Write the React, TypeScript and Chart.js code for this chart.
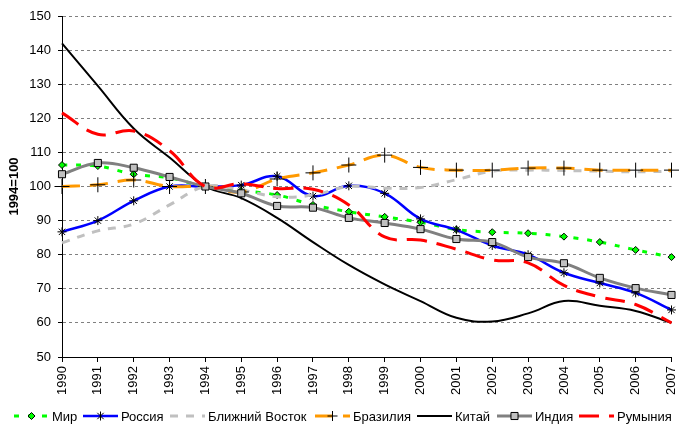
import React, { useEffect, useRef } from "react";
import { Chart, registerables } from "chart.js";

Chart.register(...registerables);

// ---------- data ----------
const years = [
  "1990", "1991", "1992", "1993", "1994", "1995", "1996", "1997", "1998",
  "1999", "2000", "2001", "2002", "2003", "2004", "2005", "2006", "2007",
];
const seriesNames = ["Мир", "Россия", "Ближний Восток", "Бразилия", "Китай", "Индия", "Румыния"];
const yAxisTitle = "1994=100";
const yMin = 50;
const yMax = 150;
const yStep = 10;

const worldValues = [106.3, 106, 103.6, 102.5, 100, 98.8, 97.5, 94.6, 92.6, 91.1, 89.5, 87.4, 86.6, 86.3, 85.3, 83.7, 81.4, 79.3];
const russiaValues = [86.7, 90, 95.8, 100, 100, 100.4, 103, 97.2, 100.2, 98, 90.5, 87.3, 82.7, 80, 74.7, 71.7, 68.8, 63.8];
const middleEastValues = [83.5, 87, 89, 94.6, 100, 99, 97, 97.5, 100, 99.5, 99.7, 102, 104.5, 104.8, 104.7, 104.5, 104.3, 104.5];
const brazilValues = [100, 100.5, 101.9, 100, 100, 98.4, 102.2, 104, 106.3, 109.2, 105.6, 104.8, 104.8, 105.4, 105.4, 104.8, 104.8, 104.8];
const chinaValues = [142, 129.5, 117, 108.5, 100, 96.6, 90.8, 83.7, 77, 71.3, 66.4, 61.5, 60.4, 62.8, 66.4, 65, 63.5, 60];
const indiaValues = [103.6, 106.9, 105.5, 102.8, 100, 98, 94.3, 93.8, 90.8, 89.3, 87.5, 84.6, 83.7, 79.3, 77.5, 73.2, 70.2, 68.2];
const romaniaValues = [121.6, 115.3, 116.3, 110.5, 100, 100.8, 99.4, 99.2, 94.6, 85.2, 84.3, 81.6, 78.5, 77.6, 71, 67.6, 65.4, 60];

// ---------- styling ----------
const FONT = "'Liberation Sans', Arial, sans-serif";
const LEGEND_TEXT_X = [52, 121, 208, 353, 455, 535, 617];
const LEGEND_Y = 416;

function drawMarker(c: CanvasRenderingContext2D, style: string, x: number, y: number, r: number, fill: string, stroke: string) {
  c.save();
  c.setLineDash([]);
  c.lineWidth = 1;
  c.strokeStyle = stroke;
  c.fillStyle = fill;
  c.beginPath();
  if (style === "rectRot") {
    c.moveTo(x, y - r);
    c.lineTo(x + r, y);
    c.lineTo(x, y + r);
    c.lineTo(x - r, y);
    c.closePath();
    c.fill();
    c.stroke();
  } else if (style === "rect") {
    const s = r * Math.SQRT1_2;
    c.rect(x - s, y - s, 2 * s, 2 * s);
    c.fill();
    c.stroke();
  } else if (style === "cross") {
    c.moveTo(x - r, y);
    c.lineTo(x + r, y);
    c.moveTo(x, y - r);
    c.lineTo(x, y + r);
    c.stroke();
  } else if (style === "star") {
    const d = r * Math.SQRT1_2;
    c.moveTo(x, y - r);
    c.lineTo(x, y + r);
    c.moveTo(x - d, y - d);
    c.lineTo(x + d, y + d);
    c.moveTo(x - d, y + d);
    c.lineTo(x + d, y - d);
    c.stroke();
  }
  c.restore();
}

const legendPlugin = {
  id: "excelLegend",
  afterDraw(chart: any) {
    const c: CanvasRenderingContext2D = chart.ctx;
    c.save();
    chart.data.datasets.forEach((ds: any, i: number) => {
      const tx = LEGEND_TEXT_X[i];
      const x0 = tx - 38;
      const x1 = tx - 3;
      c.setLineDash(ds.borderDash || []);
      c.strokeStyle = ds.borderColor;
      c.lineWidth = ds.borderWidth;
      c.lineCap = "butt";
      c.beginPath();
      c.moveTo(x0, LEGEND_Y);
      c.lineTo(x1, LEGEND_Y);
      c.stroke();
      c.setLineDash([]);
      if (ds.pointRadius > 0) {
        drawMarker(c, ds.pointStyle, (x0 + x1) / 2, LEGEND_Y, Math.min(ds.pointRadius, 5), ds.pointBackgroundColor, ds.pointBorderColor);
      }
      c.fillStyle = "#000";
      c.font = `13px ${FONT}`;
      c.textAlign = "left";
      c.textBaseline = "middle";
      c.fillText(ds.label, tx, LEGEND_Y + 1);
    });
    c.restore();
  },
};

export default function App() {
  const ref = useRef<HTMLCanvasElement>(null);

  useEffect(() => {
    document.body.style.margin = "0";
    const canvas = ref.current;
    if (!canvas) return;

    const base = { tension: 0.4, fill: false, pointHitRadius: 0 };
    const datasets: any[] = [
      {
        ...base, label: seriesNames[0], data: worldValues,
        borderColor: "#00ff00", borderWidth: 3, borderDash: [5, 9],
        pointStyle: "rectRot", pointRadius: 3.5, pointBackgroundColor: "#00ff00", pointBorderColor: "#000", pointBorderWidth: 1,
        order: 6,
      },
      {
        ...base, label: seriesNames[1], data: russiaValues,
        borderColor: "#0000ff", borderWidth: 2.5, borderDash: [],
        pointStyle: "star", pointRadius: 4.5, pointBackgroundColor: "#000", pointBorderColor: "#000", pointBorderWidth: 1,
        order: 5,
      },
      {
        ...base, label: seriesNames[2], data: middleEastValues,
        borderColor: "#c0c0c0", borderWidth: 3, borderDash: [8, 8],
        pointRadius: 0, pointBackgroundColor: "#c0c0c0", pointBorderColor: "#c0c0c0",
        order: 4,
      },
      {
        ...base, label: seriesNames[3], data: brazilValues,
        borderColor: "#ff9900", borderWidth: 3, borderDash: [18, 10],
        pointStyle: "cross", pointRadius: 7.5, pointBackgroundColor: "#000", pointBorderColor: "#000", pointBorderWidth: 1,
        order: 3,
      },
      {
        ...base, label: seriesNames[4], data: chinaValues,
        borderColor: "#000000", borderWidth: 2, borderDash: [],
        pointRadius: 0, pointBackgroundColor: "#000", pointBorderColor: "#000",
        order: 2,
      },
      {
        ...base, label: seriesNames[5], data: indiaValues,
        borderColor: "#808080", borderWidth: 3, borderDash: [],
        pointStyle: "rect", pointRadius: 5, pointBackgroundColor: "#c0c0c0", pointBorderColor: "#000", pointBorderWidth: 1,
        order: 1,
      },
      {
        ...base, label: seriesNames[6], data: romaniaValues,
        borderColor: "#ff0000", borderWidth: 3, borderDash: [20, 10],
        pointRadius: 0, pointBackgroundColor: "#ff0000", pointBorderColor: "#ff0000",
        order: 0,
      },
    ];

    const chart = new Chart(canvas, {
      type: "line",
      data: { labels: years, datasets },
      plugins: [legendPlugin],
      options: {
        animation: false,
        responsive: false,
        maintainAspectRatio: false,
        devicePixelRatio: 1,
        layout: { padding: { top: 16, right: 4, left: 0, bottom: 0 } },
        plugins: {
          legend: { display: false },
          tooltip: { enabled: false },
          title: { display: false },
        },
        scales: {
          x: {
            type: "category",
            offset: false,
            grid: {
              display: true,
              drawOnChartArea: false,
              drawTicks: true,
              tickLength: 5,
              tickColor: "#000",
              tickWidth: 1,
            },
            border: { display: true, color: "#000", width: 1 },
            ticks: {
              autoSkip: false,
              maxRotation: 90,
              minRotation: 90,
              padding: 4,
              color: "#000",
              font: { family: FONT, size: 13 },
            },
            afterFit: (s: any) => {
              s.height = 69;
              s.paddingLeft = 0;
              s.paddingRight = 0;
            },
          },
          y: {
            type: "linear",
            min: yMin,
            max: yMax,
            ticks: {
              stepSize: yStep,
              padding: 7,
              color: "#000",
              font: { family: FONT, size: 13 },
            },
            grid: {
              color: "#808080",
              lineWidth: 1,
              drawTicks: true,
              tickLength: 4,
              tickColor: "#000",
              tickWidth: 1,
              tickBorderDash: [],
            },
            border: { display: true, color: "#000", width: 1, dash: [3, 3] },
            title: {
              display: true,
              text: yAxisTitle,
              color: "#000",
              font: { family: FONT, size: 13, weight: "bold" },
              padding: { top: 7, bottom: 0 },
            },
            afterFit: (s: any) => {
              s.width = 62;
              s.paddingTop = 0;
              s.paddingBottom = 0;
            },
          },
        },
      } as any,
    });

    return () => {
      chart.destroy();
    };
  }, []);

  return (
    <div style={{ position: "fixed", left: 0, top: 0, width: 680, height: 426, background: "#fff" }}>
      <canvas ref={ref} width={680} height={426} style={{ width: 680, height: 426, display: "block" }} />
    </div>
  );
}
